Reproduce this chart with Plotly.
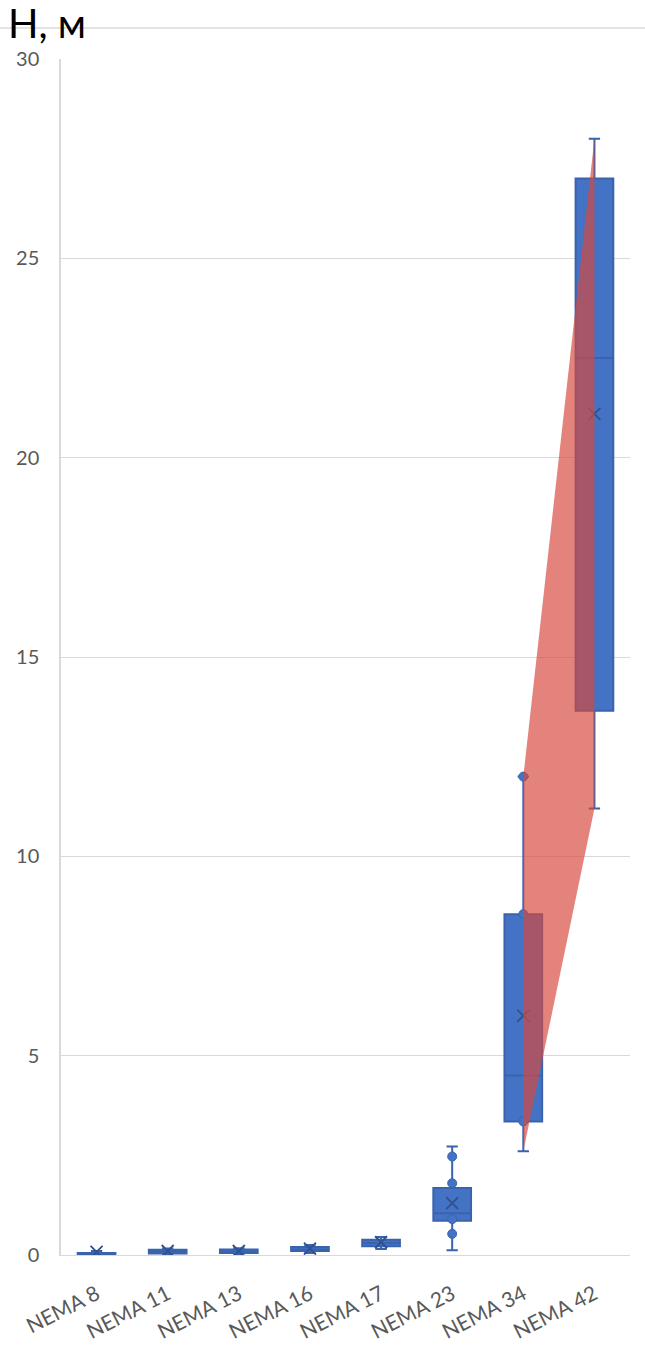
import plotly.graph_objects as go

# Motor frame sizes and box statistics of head H (m)
categories = ["NEMA 8", "NEMA 11", "NEMA 13", "NEMA 16", "NEMA 17", "NEMA 23", "NEMA 34", "NEMA 42"]
lower_whisker = [0.00, 0.02, 0.02, 0.05, 0.15, 0.12, 2.6, 11.2]
q1_values = [0.01, 0.04, 0.05, 0.10, 0.22, 0.86, 3.35, 13.65]
median_values = [0.03, 0.08, 0.08, 0.14, 0.30, 1.05, 4.5, 22.5]
q3_values = [0.05, 0.13, 0.14, 0.20, 0.38, 1.68, 8.55, 27.0]
upper_whisker = [0.10, 0.16, 0.17, 0.25, 0.45, 2.72, 12.0, 28.0]
mean_values = [0.08, 0.10, 0.10, 0.16, 0.32, 1.30, 6.0, 21.1]

# Individual points shown as circles
point_categories = ["NEMA 23", "NEMA 23", "NEMA 23", "NEMA 23", "NEMA 34", "NEMA 34", "NEMA 34"]
point_values = [2.47, 1.8, 0.9, 0.53, 12.0, 8.55, 3.35]

# Overall range band between the two largest frames
band_categories = ["NEMA 34", "NEMA 42"]
band_low = [2.6, 11.2]
band_high = [12.0, 28.0]

BLUE = "#4472C4"
DARK_BLUE = "#3A63AE"
MEAN_BLUE = "#2F528F"
GRID = "#D9D9D9"
TEXT_GRAY = "#595959"
FONT = "Lato, 'Open Sans', sans-serif"

fig = go.Figure()

fig.add_trace(go.Box(
    x=categories,
    q1=q1_values,
    median=median_values,
    q3=q3_values,
    lowerfence=lower_whisker,
    upperfence=upper_whisker,
    fillcolor=BLUE,
    line=dict(color=DARK_BLUE, width=2),
    whiskerwidth=0.3,
    width=0.53,
    boxpoints=False,
    showlegend=False,
    hoverinfo="skip",
))

fig.add_trace(go.Scatter(
    x=point_categories,
    y=point_values,
    mode="markers",
    marker=dict(symbol="circle", size=9, color=BLUE, line=dict(color=DARK_BLUE, width=1)),
    showlegend=False,
    hoverinfo="skip",
))

fig.add_trace(go.Scatter(
    x=categories,
    y=mean_values,
    mode="markers",
    marker=dict(symbol="x-thin-open", size=12, color=MEAN_BLUE,
                line=dict(color=MEAN_BLUE, width=1.8)),
    showlegend=False,
    hoverinfo="skip",
))

# Filled range band: lows left to right, then highs right to left
band_x = band_categories + band_categories[::-1]
band_y = band_low + band_high[::-1]
fig.add_trace(go.Scatter(
    x=band_x,
    y=band_y,
    mode="lines",
    fill="toself",
    fillcolor="rgba(214,72,62,0.68)",
    line=dict(width=0, color="rgba(0,0,0,0)"),
    showlegend=False,
    hoverinfo="skip",
))

plot_w = 645 - 61 - 15
plot_h = 1345 - 59 - 90

fig.update_layout(
    width=645,
    height=1345,
    margin=dict(l=61, r=15, t=59, b=90, autoexpand=False),
    paper_bgcolor="white",
    plot_bgcolor="white",
    font=dict(family=FONT, color=TEXT_GRAY),
    xaxis=dict(
        type="category",
        categoryorder="array",
        categoryarray=categories,
        range=[-0.5, len(categories) - 0.5],
        tickangle=-27,
        tickfont=dict(size=21, color=TEXT_GRAY, family=FONT),
        showgrid=False,
        showline=True,
        linecolor=GRID,
        linewidth=1,
        ticks="",
        ticklabelstandoff=18,
        zeroline=False,
        automargin=False,
    ),
    yaxis=dict(
        range=[0, 30],
        dtick=5,
        tickfont=dict(size=20, color=TEXT_GRAY, family=FONT),
        showgrid=True,
        gridcolor=GRID,
        gridwidth=1,
        showline=True,
        linecolor=GRID,
        linewidth=1.5,
        ticks="",
        ticklabelstandoff=16,
        zeroline=False,
        automargin=False,
    ),
    shapes=[
        dict(type="line", xref="paper", yref="paper",
             x0=-61 / plot_w, x1=(645 - 61) / plot_w,
             y0=1 + 31 / plot_h, y1=1 + 31 / plot_h,
             line=dict(color="#DADADA", width=1.5)),
    ],
    annotations=[
        dict(text="H, м", xref="paper", yref="paper",
             x=(6 - 61) / plot_w, y=1 + (59 + 3) / plot_h,
             xanchor="left", yanchor="top", showarrow=False,
             font=dict(size=40, color="black", family=FONT)),
    ],
)

fig.write_html("out.html")
